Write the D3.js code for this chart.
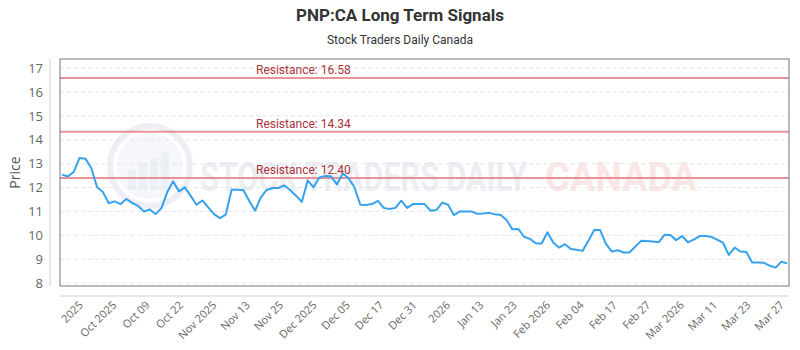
<!DOCTYPE html>
<html>
<head>
<meta charset="utf-8">
<script src="https://cdn.jsdelivr.net/npm/d3@7"></script>
<style>
  body { margin: 0; background: #fff; }
  svg { display: block; font-family: "Open Sans", "Noto Sans", sans-serif; }
</style>
</head>
<body>
<div id="chart"></div>
<script>
// Closing prices, one per trading day
const prices = [
    12.54, 12.46, 12.65, 13.24, 13.21, 12.82, 12.01, 11.81, 11.34, 11.42,
    11.31, 11.52, 11.36, 11.23, 11.00, 11.08, 10.89, 11.14, 11.81, 12.26,
    11.84, 12.01, 11.65, 11.28, 11.46, 11.17, 10.89, 10.72, 10.87, 11.92,
    11.91, 11.90, 11.45, 11.03, 11.59, 11.90, 11.98, 11.98, 12.09, 11.90,
    11.66, 11.40, 12.30, 12.01, 12.42, 12.48, 12.47, 12.13, 12.59, 12.39,
    12.01, 11.28, 11.27, 11.31, 11.44, 11.15, 11.10, 11.15, 11.45, 11.15,
    11.31, 11.31, 11.31, 11.03, 11.06, 11.37, 11.28, 10.85, 11.00, 11.00,
    11.00, 10.90, 10.91, 10.94, 10.88, 10.85, 10.64, 10.25, 10.27, 9.94,
    9.85, 9.67, 9.66, 10.13, 9.69, 9.49, 9.63, 9.43, 9.40, 9.35,
    9.77, 10.22, 10.22, 9.64, 9.32, 9.38, 9.28, 9.28, 9.52, 9.77,
    9.76, 9.74, 9.71, 10.02, 10.01, 9.80, 9.97, 9.71, 9.82, 9.97,
    9.97, 9.94, 9.82, 9.69, 9.18, 9.49, 9.32, 9.30, 8.86, 8.86,
    8.85, 8.73, 8.65, 8.90, 8.82
];

const resistanceLevels = [16.58, 14.34, 12.40];

const tickLabels = [
    "2025", "Oct 2025", "Oct 09", "Oct 22", "Nov 2025", "Nov 13", "Nov 25",
    "Dec 2025", "Dec 05", "Dec 17", "Dec 31", "2026", "Jan 13", "Jan 23",
    "Feb 2026", "Feb 04", "Feb 17", "Feb 27", "Mar 2026", "Mar 11", "Mar 23", "Mar 27"
];

const yTicks = [8, 9, 10, 11, 12, 13, 14, 15, 16, 17];

const width = 800, height = 350;
const plot = { left: 60, right: 789, top: 59, bottom: 286 };

const svg = d3.select("#chart").append("svg")
    .attr("width", width)
    .attr("height", height);

// Title
svg.append("text")
    .attr("x", 400).attr("y", 21)
    .attr("text-anchor", "middle")
    .style("font-family", "Roboto, sans-serif")
    .style("font-weight", "bold")
    .style("font-size", "17px")
    .attr("fill", "#333")
    .text("PNP:CA Long Term Signals");

svg.append("text")
    .attr("x", 400).attr("y", 44)
    .attr("text-anchor", "middle")
    .style("font-family", "Roboto, sans-serif")
    .style("font-size", "12px")
    .attr("fill", "#333")
    .text("Stock Traders Daily Canada");

const x = d3.scaleLinear()
    .domain([0, prices.length - 1])
    .range([62, 787.3]);

const y = d3.scaleLinear()
    .domain([7.88, 17.38])
    .range([plot.bottom, plot.top]);

// Tick labels are spread evenly along the bottom
const xLabel = d3.scalePoint()
    .domain(tickLabels)
    .range([81, 782]);

// Watermark
const wm = svg.append("g").attr("opacity", 0.55);
wm.append("circle")
    .attr("cx", 150).attr("cy", 166).attr("r", 40)
    .attr("fill", "none")
    .attr("stroke", "#dfe3ee")
    .attr("stroke-width", 6);
wm.append("circle")
    .attr("cx", 150).attr("cy", 166).attr("r", 33)
    .attr("fill", "#eef1f7");
wm.selectAll("rect.wmbar")
    .data([0, 1, 2, 3])
    .join("rect")
        .attr("class", "wmbar")
        .attr("x", (d) => 128 + d * 11)
        .attr("y", (d) => 170 - d * 6)
        .attr("width", 8)
        .attr("height", (d) => 20 + d * 6)
        .attr("fill", "#dde2ee");
wm.append("text")
    .attr("x", 200).attr("y", 191)
    .attr("textLength", 327)
    .attr("lengthAdjust", "spacingAndGlyphs")
    .style("font-family", "Roboto, sans-serif")
    .style("font-size", "40px")
    .style("font-weight", "bold")
    .attr("fill", "#dde1ec")
    .text("STOCK TRADERS DAILY");
wm.append("text")
    .attr("x", 545).attr("y", 191)
    .attr("textLength", 152)
    .attr("lengthAdjust", "spacingAndGlyphs")
    .style("font-family", "Roboto, sans-serif")
    .style("font-size", "40px")
    .style("font-weight", "bold")
    .attr("fill", "#f8d3d3")
    .text("CANADA");

// Grid lines
svg.append("g")
    .selectAll("line")
    .data(yTicks)
    .join("line")
        .attr("x1", plot.left).attr("x2", plot.right)
        .attr("y1", (d) => y(d)).attr("y2", (d) => y(d))
        .attr("stroke", "#e6e6e6")
        .attr("stroke-dasharray", "4,3");

// Y axis: labels and a separate light line
const yAxis = svg.append("g")
    .attr("transform", "translate(50,0)")
    .call(d3.axisLeft(y).tickValues(yTicks).tickSize(0).tickPadding(7));
yAxis.select(".domain").remove();
yAxis.selectAll("text")
    .style("font-size", "13px")
    .style("font-family", "Open Sans, sans-serif")
    .attr("fill", "#666");
svg.append("line")
    .attr("x1", 50).attr("x2", 50)
    .attr("y1", plot.top).attr("y2", plot.bottom)
    .attr("stroke", "#d0d0d0");

svg.append("text")
    .attr("transform", "translate(20," + (plot.top + plot.bottom) / 2 + ") rotate(-90)")
    .attr("text-anchor", "middle")
    .style("font-size", "14px")
    .attr("fill", "#555")
    .text("Price");

// X axis line and rotated labels
svg.append("line")
    .attr("x1", plot.left).attr("x2", plot.right)
    .attr("y1", 296).attr("y2", 296)
    .attr("stroke", "#d0d0d0");

svg.append("g")
    .selectAll("text")
    .data(tickLabels)
    .join("text")
        .attr("transform", (d) => `translate(${xLabel(d)},303) rotate(-45)`)
        .attr("text-anchor", "end")
        .attr("dy", "0.35em")
        .style("font-size", "11px")
        .attr("fill", "#666")
        .text((d) => d);

// Resistance lines
const res = svg.append("g");
res.selectAll("line")
    .data(resistanceLevels)
    .join("line")
        .attr("x1", plot.left).attr("x2", plot.right)
        .attr("y1", (d) => y(d)).attr("y2", (d) => y(d))
        .attr("stroke", "#e57f86")
        .attr("stroke-opacity", 0.85)
        .attr("stroke-width", 2);
res.selectAll("text")
    .data(resistanceLevels)
    .join("text")
        .attr("x", 256)
        .attr("y", (d) => y(d) - 4)
        .style("font-size", "12px")
        .style("font-family", "Roboto, sans-serif")
        .attr("fill", "#a8323a")
        .text((d) => "Resistance: " + d.toFixed(2));

// Price line
const line = d3.line()
    .x((d, i) => x(i))
    .y((d) => y(d));

svg.append("path")
    .datum(prices)
    .attr("d", line)
    .attr("fill", "none")
    .attr("stroke", "#36a2eb")
    .attr("stroke-width", 2)
    .attr("stroke-linejoin", "round");

// Plot frame
svg.append("rect")
    .attr("x", plot.left).attr("y", plot.top)
    .attr("width", plot.right - plot.left)
    .attr("height", plot.bottom - plot.top)
    .attr("fill", "none")
    .attr("stroke", "#777")
    .attr("stroke-width", 1);
</script>
</body>
</html>
